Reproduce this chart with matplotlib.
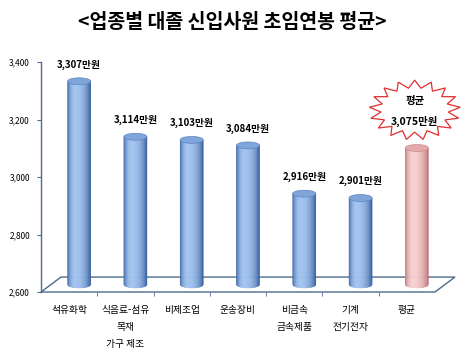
import numpy as np
import matplotlib
matplotlib.use("Agg")
import matplotlib.pyplot as plt
from matplotlib.collections import PolyCollection
from matplotlib.patches import Ellipse, Polygon

plt.rcParams['font.family'] = ['Noto Sans CJK KR', 'DejaVu Sans']

# data
categories = ['석유화학', '식음료-섬유\n목재\n가구 제조', '비제조업', '운송장비',
              '비금속\n금속제품', '기계\n전기전자', '평균']
salaries = [3307, 3114, 3103, 3084, 2916, 2901, 3075]
value_labels = ['3,307만원', '3,114만원', '3,103만원', '3,084만원',
                '2,916만원', '2,901만원', '3,075만원']
yticks = [2600, 2800, 3000, 3200, 3400]
ytick_labels = ['2,600', '2,800', '3,000', '3,200', '3,400']

W, H = 465, 353
fig = plt.figure(figsize=(W / 100, H / 100), dpi=100)
fig.patch.set_facecolor('white')
ax = fig.add_axes([41 / W, 1 - 292 / H, (435 - 41) / W, (292 - 62) / H])
ax.set_xlim(0, 7)
ax.set_ylim(2600, 3400)

line_c = '#4d6b8c'
# depth of the 3d floor in data units
ddx, ddy = 0.355, 52

floor = Polygon([(0, 2600), (7, 2600), (7 + ddx, 2600 + ddy), (ddx, 2600 + ddy)],
                closed=True, facecolor='white', edgecolor=line_c, lw=1.0,
                clip_on=False, zorder=1)
ax.add_patch(floor)


def mix(c1, c2, t):
    c1 = np.array(matplotlib.colors.to_rgb(c1))
    c2 = np.array(matplotlib.colors.to_rgb(c2))
    return tuple(c1 + (c2 - c1) * t)


def cylinder(xc, top, base, w, b, dark, light, cap, cap_edge):
    n = 40
    us = np.linspace(-1, 1, n + 1)
    polys, cols = [], []
    for k in range(n):
        u0, u1 = us[k], us[k + 1]
        um = (u0 + u1) / 2
        x0, x1 = xc + u0 * w / 2, xc + u1 * w / 2
        b0 = base - b * np.sqrt(max(0, 1 - u0 ** 2))
        b1 = base - b * np.sqrt(max(0, 1 - u1 ** 2))
        polys.append([(x0, b0), (x1, b1), (x1, top), (x0, top)])
        t = 1 - ((um + 0.3) / (1.3 if um > -0.3 else 0.7)) ** 2
        t = max(0.0, t) ** 0.7
        cols.append(mix(dark, light, t))
    pc = PolyCollection(polys, facecolors=cols, edgecolors=cols, lw=0.3,
                        clip_on=False, zorder=3)
    ax.add_collection(pc)
    ax.add_patch(Ellipse((xc, top), w, 2 * b, facecolor=cap, edgecolor=cap_edge,
                         lw=0.5, clip_on=False, zorder=4))


w = 0.41
b = 12
for i, v in enumerate(salaries):
    xc = i + 0.5 + ddx / 2
    base = 2600 + ddy / 2
    top = v + ddy / 2
    if categories[i] == '평균':
        cylinder(xc, top, base, w, b, '#b5686e', '#f7d0d0', '#e6a9ab', '#c98a8d')
    else:
        cylinder(xc, top, base, w, b, '#2c5597', '#a3c4f0', '#7fa5db', '#5c84bf')
        ax.annotate(value_labels[i], (xc, top), xytext=(0, 12),
                    textcoords='offset points', ha='center', va='center',
                    fontsize=7, fontweight='bold')

# starburst callout for the average
sx, sy = 6.64, 3233
n_sp = 17
ang = np.linspace(0, 2 * np.pi, 2 * n_sp, endpoint=False) + np.pi / 2
rad = np.where(np.arange(2 * n_sp) % 2 == 0, 1.0, 0.74)
star = Polygon(np.column_stack([sx + 0.81 * rad * np.cos(ang),
                                sy + 104 * rad * np.sin(ang)]),
               closed=True, facecolor='white', edgecolor='#e03030', lw=0.9,
               clip_on=False, zorder=5)
ax.add_patch(star)
ax.text(sx, 3263, '평균', ha='center', va='center', fontsize=7.5,
        fontweight='bold', zorder=6, clip_on=False)
ax.text(sx, 3193, value_labels[6], ha='center', va='center', fontsize=7.5,
        fontweight='bold', zorder=6, clip_on=False)

# axes styling
for s in ['top', 'right', 'bottom']:
    ax.spines[s].set_visible(False)
ax.spines['left'].set_color(line_c)
ax.spines['left'].set_linewidth(1.0)
ax.set_yticks(yticks)
ax.set_yticklabels(ytick_labels, fontsize=6)
ax.tick_params(axis='y', length=3, color=line_c, pad=5)
ax.set_xticks([i + 0.5 for i in range(7)])
ax.set_xticklabels(categories, fontsize=7, linespacing=1.9, va='top')
ax.set_xticks(range(1, 7), minor=True)
ax.tick_params(axis='x', which='major', length=0, pad=9)
ax.tick_params(axis='x', which='minor', length=3, color=line_c)
ax.patch.set_visible(False)

fig.text(0.5, 1 - 22 / H, '<업종별 대졸 신입사원 초임연봉 평균>', ha='center',
         va='center', fontsize=14, fontweight='bold')

fig.savefig('out.png', dpi=100, facecolor='white')
